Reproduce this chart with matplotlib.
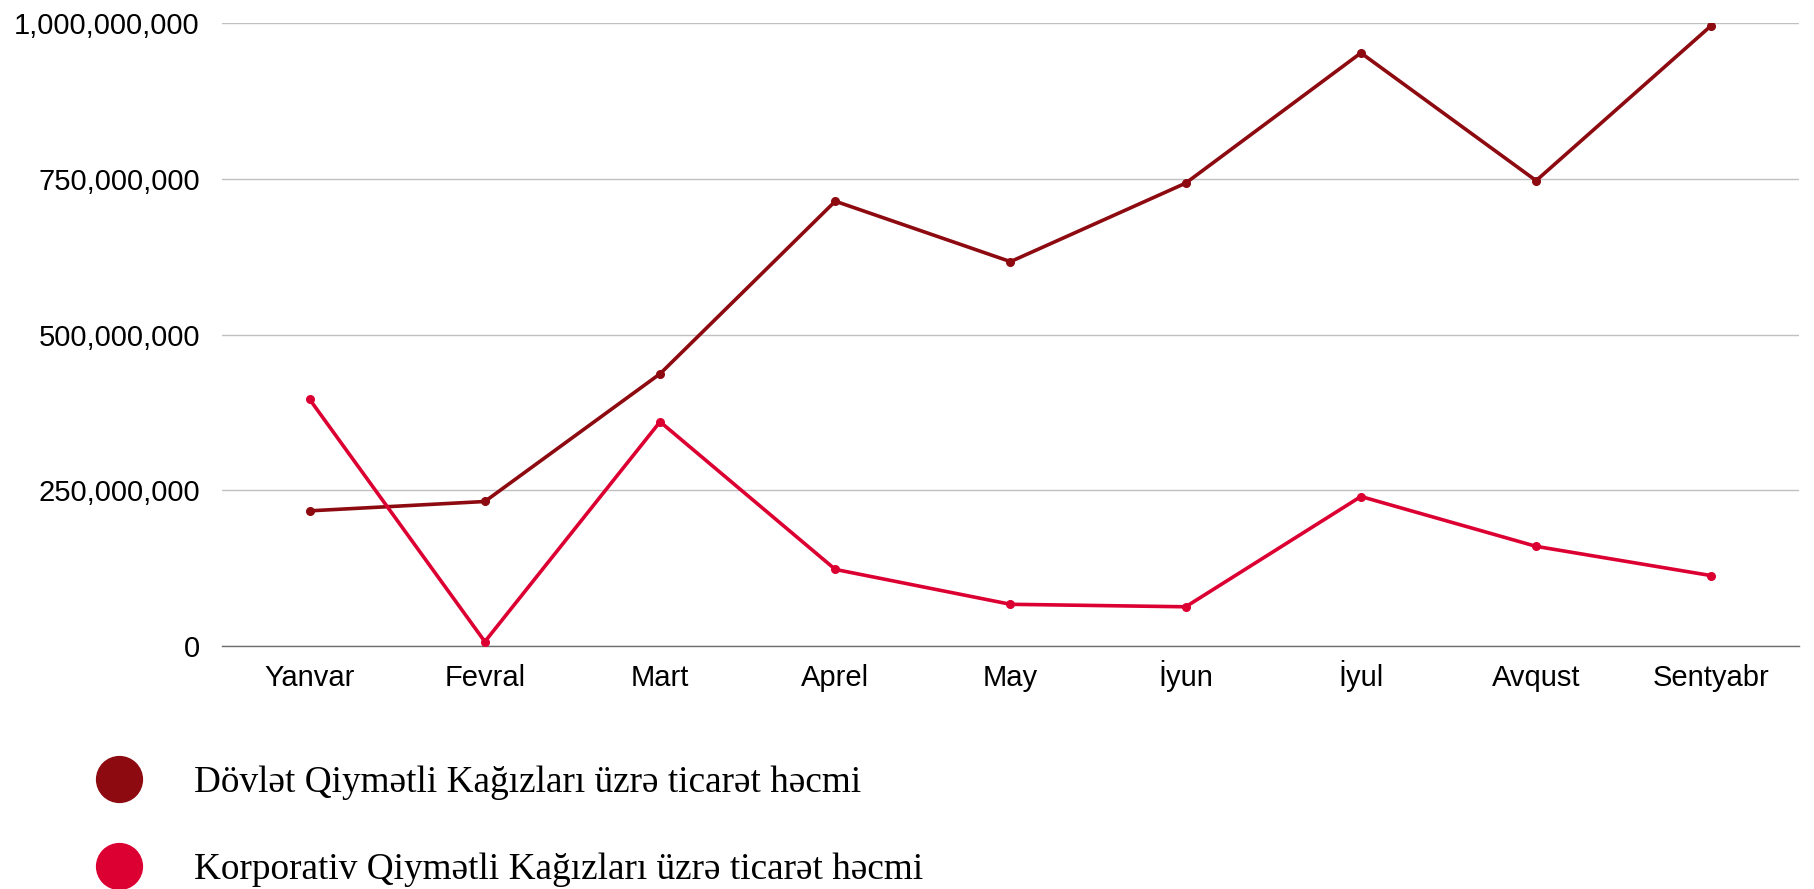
import matplotlib
matplotlib.use("Agg")
import matplotlib.pyplot as plt
from matplotlib.lines import Line2D
from matplotlib.ticker import FuncFormatter

months = ["Yanvar", "Fevral", "Mart", "Aprel", "May", "İyun", "İyul", "Avqust", "Sentyabr"]
dovlet = [217e6, 232e6, 437e6, 714e6, 617e6, 743e6, 952e6, 747e6, 996e6]
korporativ = [396e6, 7e6, 360e6, 123e6, 67e6, 63e6, 240e6, 160e6, 113e6]
labels = ["Dövlət Qiymətli Kağızları üzrə ticarət həcmi",
          "Korporativ Qiymətli Kağızları üzrə ticarət həcmi"]
yticks = [0, 250e6, 500e6, 750e6, 1000e6]

c_dark = "#8d0a10"
c_red = "#dc0032"

plt.rcParams['font.family'] = ['Liberation Sans', 'DejaVu Sans']

fig = plt.figure(figsize=(18.14, 8.89), dpi=100)
ax = fig.add_axes([0.1224, 0.2733, 0.8693, 0.7008])

x = list(range(len(months)))
ax.plot(x, dovlet, color=c_dark, lw=2.6, marker='o', markersize=5.5, zorder=3)
ax.plot(x, korporativ, color=c_red, lw=2.6, marker='o', markersize=5.5, zorder=3)

ax.set_xlim(-0.5, len(months) - 0.5)
ax.set_ylim(0, 1000e6)
ax.set_yticks(yticks)
ax.yaxis.set_major_formatter(FuncFormatter(lambda v, p: f"{int(v):,}"))
ax.set_xticks(x)
ax.set_xticklabels(months)
ax.tick_params(axis='both', length=0, labelsize=21, colors='black')
ax.tick_params(axis='y', pad=16)
ax.tick_params(axis='x', pad=29)
for t in ax.get_xticklabels():
    t.set_verticalalignment('baseline')
ax.grid(axis='y', color='#c0c0c0', lw=1)
ax.set_axisbelow(True)
for s in ['top', 'right', 'left']:
    ax.spines[s].set_visible(False)
ax.spines['bottom'].set_color('#6e6e6e')
ax.spines['bottom'].set_linewidth(1)

handles = [Line2D([], [], ls='none', marker='o', markersize=33, color=c)
           for c in [c_dark, c_red]]
fig.legend(handles, labels, loc='upper left', bbox_to_anchor=(0.052, 0.139),
           frameon=False, prop={'family': 'Liberation Serif', 'size': 26.8},
           handlelength=1.3, handletextpad=1.37, labelspacing=1.4, borderpad=0,
           borderaxespad=0)

fig.savefig("out.png", dpi=100)
